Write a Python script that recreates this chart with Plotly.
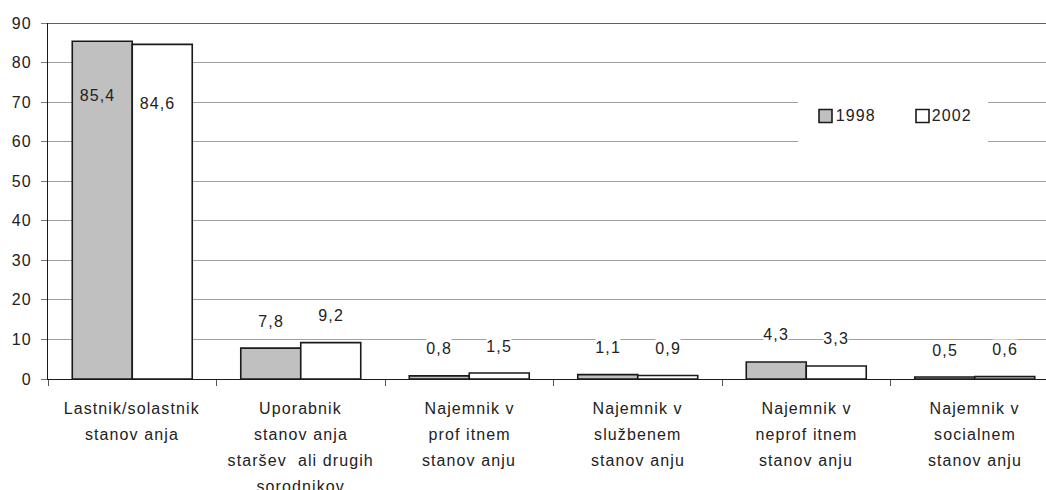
import plotly.graph_objects as go

# Housing tenure categories (lines of each axis label separated by "\n")
category_labels = [
    "Lastnik/solastnik\nstanov anja",
    "Uporabnik\nstanov anja\nstaršev  ali drugih\nsorodnikov",
    "Najemnik v\nprof itnem\nstanov anju",
    "Najemnik v\nslužbenem\nstanov anju",
    "Najemnik v\nneprof itnem\nstanov anju",
    "Najemnik v\nsocialnem\nstanov anju",
]
years = ["1998", "2002"]
values_1998 = [85.4, 7.8, 0.8, 1.1, 4.3, 0.5]
values_2002 = [84.6, 9.2, 1.5, 0.9, 3.3, 0.6]
y_ticks = [0, 10, 20, 30, 40, 50, 60, 70, 80, 90]

# Page geometry
W, H = 1046, 490
ML, MR, MT, MB = 48, 0, 23, 111
PW, PH = W - ML - MR, H - MT - MB
CAT_PX = 168.5                      # width of one category in pixels
X_MAX = -0.5 + PW / CAT_PX          # right edge of the visible range
BARGAP = 0.288
HALF = (1 - BARGAP) / 4             # offset of each bar centre from the category centre

FONT = "Liberation Sans, Arial, sans-serif"
FS = 16
TXT = "#222222"
GREY = "#C0C0C0"


def px_x(px):
    return (px - ML) / PW


def px_y(py):
    return 1 - (py - MT) / PH


x_idx = list(range(len(category_labels)))
series = [(years[0], values_1998, GREY), (years[1], values_2002, "#FFFFFF")]

fig = go.Figure()
for name, vals, col in series:
    fig.add_trace(go.Bar(
        x=x_idx, y=vals, name=name,
        marker=dict(color=col, line=dict(color="#1a1a1a", width=1.6)),
        showlegend=False, hoverinfo="skip",
    ))

annotations = []

# Value labels (decimal comma)
for s, (name, vals, col) in enumerate(series):
    sign = -1 if s == 0 else 1
    for i, v in enumerate(vals):
        txt = f"{v:.1f}".replace(".", ",")
        if i == 0:
            # the tall pair carries its labels inside the bars
            annotations.append(dict(
                x=i + sign * HALF - 0.03, y=v, xref="x", yref="y",
                text=txt, showarrow=False, yanchor="middle",
                yshift=-54 if s == 0 else -59,
                font=dict(family=FONT, size=FS, color=TXT),
            ))
        else:
            annotations.append(dict(
                x=i + sign * HALF, y=v, xref="x", yref="y",
                text=txt, showarrow=False, yanchor="middle", yshift=27,
                bgcolor="#FFFFFF", borderpad=1,
                font=dict(family=FONT, size=FS, color=TXT),
            ))

# Category labels, one annotation per line for wide line spacing
LINE_STEP = 26
for i, lab in enumerate(category_labels):
    for k, line in enumerate(lab.split("\n")):
        annotations.append(dict(
            x=i, y=px_y(408 + k * LINE_STEP), xref="x", yref="paper",
            text=line, showarrow=False, yanchor="middle", xanchor="center",
            font=dict(family=FONT, size=FS, color=TXT),
        ))

# Darker frame line along the top of the value range
shapes = [dict(
    type="line", xref="paper", yref="y", x0=0, x1=1, y0=90, y1=90,
    line=dict(color="#5e5e5e", width=2), layer="above",
)]

# Legend: white panel over the gridlines with two keyed entries
shapes.append(dict(
    type="rect", xref="paper", yref="paper",
    x0=px_x(798), x1=px_x(988), y0=px_y(150), y1=px_y(90),
    fillcolor="#FFFFFF", line=dict(width=0), layer="above",
))
legend_items = [(years[0], GREY, 819, 836), (years[1], "#FFFFFF", 916, 932)]
for name, col, sq_x, tx in legend_items:
    shapes.append(dict(
        type="rect", xref="paper", yref="paper",
        x0=px_x(sq_x), x1=px_x(sq_x + 13), y0=px_y(122.5), y1=px_y(109.5),
        fillcolor=col, line=dict(color="#1a1a1a", width=1.6), layer="above",
    ))
    annotations.append(dict(
        x=px_x(tx), y=px_y(115.5), xref="paper", yref="paper",
        text=name, showarrow=False, xanchor="left", yanchor="middle",
        font=dict(family=FONT, size=FS, color=TXT),
    ))

fig.update_layout(
    width=W, height=H,
    margin=dict(l=ML, r=MR, t=MT, b=MB, pad=0),
    paper_bgcolor="#FFFFFF", plot_bgcolor="#FFFFFF",
    barmode="group", bargap=BARGAP, bargroupgap=0,
    annotations=annotations, shapes=shapes,
    showlegend=False,
)
fig.update_xaxes(
    range=[-0.5, X_MAX], showgrid=False, zeroline=False,
    showline=True, linecolor="#1a1a1a", linewidth=1,
    tickmode="array", tickvals=[i - 0.5 for i in range(len(category_labels) + 1)],
    ticktext=[""] * (len(category_labels) + 1),
    ticks="outside", ticklen=6, tickcolor="#555555", tickwidth=1,
)
fig.update_yaxes(
    range=[0, 90], tickmode="array", tickvals=y_ticks,
    showgrid=True, gridcolor="#a0a0a0", gridwidth=1, zeroline=False,
    showline=True, linecolor="#1a1a1a", linewidth=1,
    ticks="outside", ticklen=6, tickcolor="#777777", tickwidth=1,
    ticklabelstandoff=6,
    tickfont=dict(family=FONT, size=FS, color=TXT),
)

# Slightly open letter spacing for all chart text
spacing_js = (
    "document.querySelectorAll('.main-svg text').forEach(function(t){"
    "t.style.letterSpacing='1.1px';});"
)
fig.write_html("out.html", post_script=spacing_js)
